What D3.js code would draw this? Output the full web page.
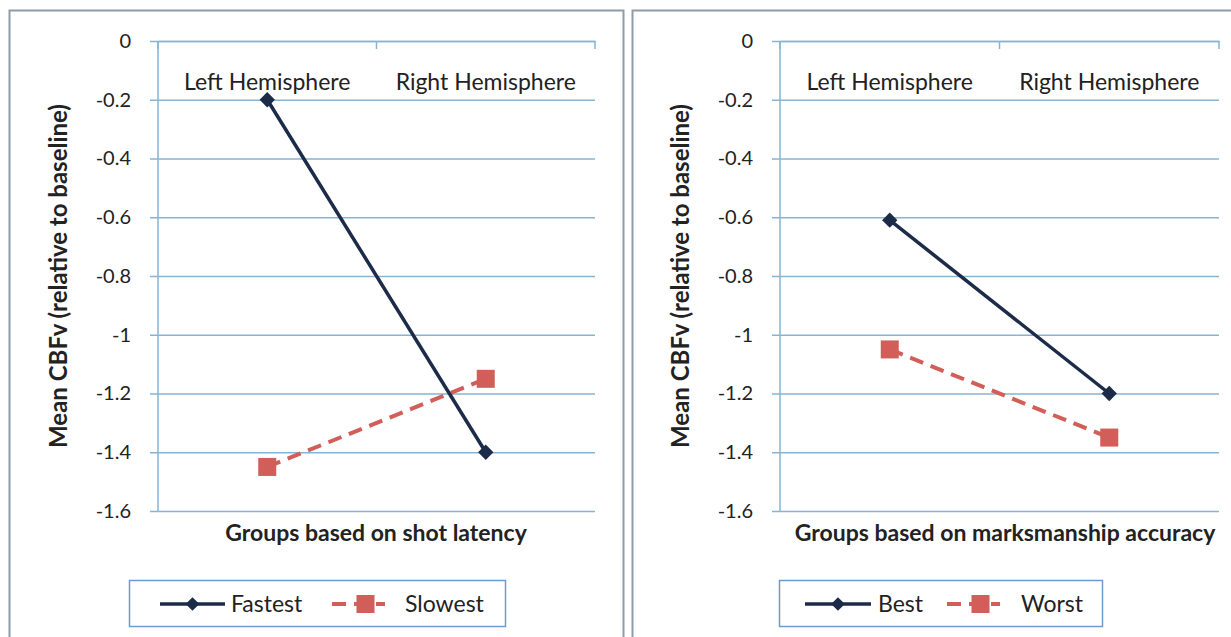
<html>
<head>
<meta charset="utf-8">
<script src="https://d3js.org/d3.v7.min.js"></script>
<style>
  body { margin: 0; background: #fff; }
  svg text { font-family: Lato, "Open Sans", sans-serif; fill: #222; }
</style>
</head>
<body>
<div id="chart"></div>
<script>
// data
const categories = ["Left Hemisphere", "Right Hemisphere"];
const yTicks = [0, -0.2, -0.4, -0.6, -0.8, -1, -1.2, -1.4, -1.6];

const latencyNames = ["Fastest", "Slowest"];
const latencyFastest = [-0.2, -1.4];
const latencySlowest = [-1.45, -1.15];

const accuracyNames = ["Best", "Worst"];
const accuracyBest = [-0.61, -1.2];
const accuracyWorst = [-1.05, -1.35];

const W = 1231, H = 637;
const navy = "#1b2b48", red = "#d15e58", grid = "#86b4d2";

const svg = d3.select("#chart").append("svg")
  .attr("width", W).attr("height", H);

function panel(opt) {
  const g = svg.append("g");
  // outer frame
  g.append("rect")
    .attr("x", opt.frame[0] + 0.5).attr("y", 10.5)
    .attr("width", opt.frame[1] - opt.frame[0]).attr("height", 640)
    .attr("fill", "#fff").attr("stroke", "#8d9ca8").attr("stroke-width", 2);

  const x = d3.scaleBand().domain(categories).range([opt.left, opt.right]);
  const y = d3.scaleLinear().domain([-1.6, 0]).range([511, 41]);

  // gridlines + y ticks
  g.append("g")
    .attr("transform", `translate(${opt.left},0)`)
    .call(d3.axisLeft(y).tickValues(yTicks).tickSize(-(opt.right - opt.left))
      .tickFormat(d => String(d)))
    .call(a => a.select(".domain").remove())
    .call(a => a.selectAll(".tick line").attr("stroke", grid).attr("stroke-width", 1.5).attr("x1", -8))
    .call(a => a.selectAll(".tick text").attr("x", -27).attr("font-size", 20).attr("fill", "#222"));

  // y axis line
  g.append("line")
    .attr("x1", opt.left).attr("x2", opt.left).attr("y1", y(0)).attr("y2", y(-1.6))
    .attr("stroke", grid).attr("stroke-width", 1.5);

  // category axis at zero
  g.append("g")
    .attr("transform", `translate(0,${y(0)})`)
    .call(d3.axisTop(x).tickSize(8).tickSizeOuter(0).tickFormat(""))
    .call(a => a.select(".domain").attr("stroke", grid).attr("stroke-width", 1.5))
    .call(a => a.selectAll(".tick").remove());
  const edges = [opt.left, (opt.left + opt.right) / 2, opt.right];
  g.selectAll(".cattick").data(edges).enter().append("line")
    .attr("x1", d => d).attr("x2", d => d).attr("y1", y(0)).attr("y2", y(0) + 8)
    .attr("stroke", grid).attr("stroke-width", 1.5);

  g.selectAll(".cat").data(categories).enter().append("text")
    .attr("x", d => x(d) + x.bandwidth() / 2).attr("y", 90)
    .attr("text-anchor", "middle").attr("font-size", 23)
    .text(d => d);

  // series
  const line = d3.line().x((d, i) => x(categories[i]) + x.bandwidth() / 2).y(d => y(d));
  g.append("path").datum(opt.b)
    .attr("d", line).attr("fill", "none").attr("stroke", red)
    .attr("stroke-width", 4).attr("stroke-dasharray", "14,8");
  g.selectAll(".sq").data(opt.b).enter().append("rect")
    .attr("x", (d, i) => x(categories[i]) + x.bandwidth() / 2 - 9)
    .attr("y", d => y(d) - 9).attr("width", 18).attr("height", 18).attr("fill", red);

  g.append("path").datum(opt.a)
    .attr("d", line).attr("fill", "none").attr("stroke", navy).attr("stroke-width", 3.5);
  g.selectAll(".dm").data(opt.a).enter().append("path")
    .attr("d", d3.symbol(d3.symbolDiamond2, 150))
    .attr("transform", (d, i) => `translate(${x(categories[i]) + x.bandwidth() / 2},${y(d)})`)
    .attr("fill", navy);

  // titles
  g.append("text")
    .attr("transform", `translate(${opt.ytitleX},${(y(0) + y(-1.6)) / 2}) rotate(-90)`)
    .attr("text-anchor", "middle").attr("font-size", 24).attr("font-weight", "bold")
    .text("Mean CBFv (relative to baseline)");
  g.append("text")
    .attr("x", opt.xtitleX).attr("y", 541)
    .attr("text-anchor", "middle").attr("font-size", 23).attr("font-weight", "bold")
    .text(opt.xtitle);

  // legend
  const L = opt.legend;
  const lg = g.append("g").attr("transform", `translate(${L.x},580)`);
  lg.append("rect").attr("x", 0.5).attr("y", 0.5)
    .attr("width", L.w).attr("height", 46)
    .attr("fill", "#fff").attr("stroke", "#6d9ccc").attr("stroke-width", 1.5);
  lg.append("line").attr("x1", L.a[0]).attr("x2", L.a[1]).attr("y1", 24).attr("y2", 24)
    .attr("stroke", navy).attr("stroke-width", 3.5);
  lg.append("path").attr("d", d3.symbol(d3.symbolDiamond2, 120))
    .attr("transform", `translate(${(L.a[0] + L.a[1]) / 2},24)`).attr("fill", navy);
  lg.append("text").attr("x", L.a[2]).attr("y", 32).attr("font-size", 23).text(opt.names[0]);
  lg.append("line").attr("x1", L.b[0]).attr("x2", L.b[1]).attr("y1", 24).attr("y2", 24)
    .attr("stroke", red).attr("stroke-width", 4).attr("stroke-dasharray", "14,8");
  lg.append("rect").attr("x", (L.b[0] + L.b[1]) / 2 - 2).attr("y", 15)
    .attr("width", 18).attr("height", 18).attr("fill", red);
  lg.append("text").attr("x", L.b[2]).attr("y", 32).attr("font-size", 23).text(opt.names[1]);
}

panel({
  frame: [9, 623], left: 158, right: 595, ytitleX: 67, xtitleX: 376,
  xtitle: "Groups based on shot latency",
  a: latencyFastest, b: latencySlowest, names: latencyNames,
  legend: { x: 129, w: 376, a: [31, 96, 102], b: [203, 256, 276] }
});

panel({
  frame: [632, 1240], left: 780, right: 1219, ytitleX: 689, xtitleX: 1005,
  xtitle: "Groups based on marksmanship accuracy",
  a: accuracyBest, b: accuracyWorst, names: accuracyNames,
  legend: { x: 779, w: 323, a: [26, 92, 99], b: [168, 221, 242] }
});
</script>
</body>
</html>
